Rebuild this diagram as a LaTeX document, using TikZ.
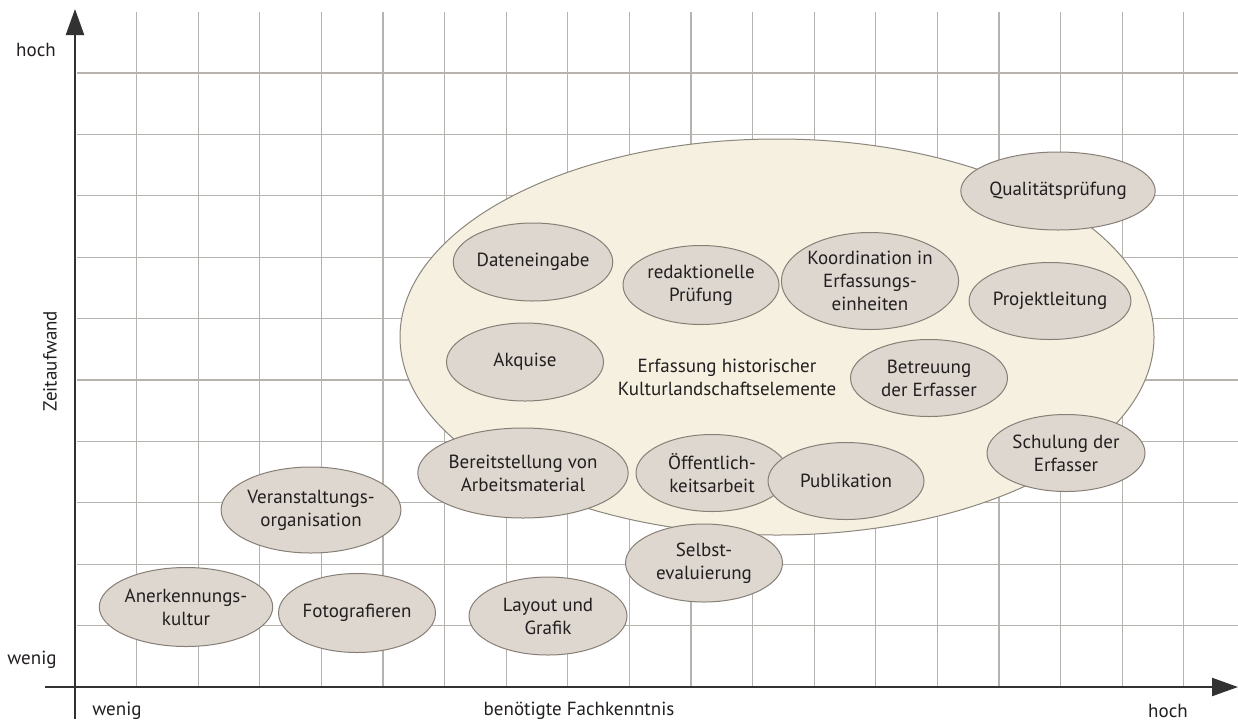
\documentclass[tikz,border=0pt]{standalone}
\usepackage{fontspec}
\setmainfont{PT Sans}
\usetikzlibrary{shapes.geometric,arrows.meta}
\definecolor{gridcol}{RGB}{182,178,174}
\definecolor{fieldfill}{RGB}{245,240,224}
\definecolor{fieldline}{RGB}{140,134,124}
\definecolor{taskfill}{RGB}{221,215,207}
\definecolor{taskline}{RGB}{135,127,118}
\definecolor{inkcol}{RGB}{35,31,32}
\definecolor{axiscol}{RGB}{50,50,50}
\tikzset{
  gridline/.style={draw=gridcol, line width=1.3pt},
  axisline/.style={draw=axiscol, line width=2.2pt, -{Triangle[length=26pt,width=18pt]}},
  field/.style={ellipse, draw=fieldline, fill=fieldfill, line width=1pt, inner sep=0pt},
  task/.style={ellipse, draw=taskline, fill=taskfill, line width=1pt, inner sep=0pt,
    align=center, text=inkcol, font=\fontsize{19}{23}\selectfont},
  lbl/.style={text=inkcol, font=\fontsize{19}{23}\selectfont, inner sep=0pt, align=center},
}
\begin{document}
\begin{tikzpicture}[x=1pt, y=-1pt]
\useasboundingbox[fill=white] (0,0) rectangle (1238,721);

% grid
\foreach \k in {1,...,18} {
  \draw[gridline] ({75+61.6*\k},12) -- ({75+61.6*\k},687);
}
\foreach \k in {1,...,10} {
  \draw[gridline] (77,{687-61.4*\k}) -- (1238,{687-61.4*\k});
}

% axes
\coordinate (ystart) at (75,719);
\coordinate (yend) at (75,9);
\coordinate (xstart) at (45,687);
\coordinate (xend) at (1238,687);
\draw[axisline] (ystart) -- (yend);
\draw[axisline] (xstart) -- (xend);

\node[lbl] (yhigh) at (36,50) {hoch};
\node[lbl] (ylow) at (32,660) {wenig};
\node[lbl, rotate=90] (ytitle) at (50,361) {Zeitaufwand};
\node[lbl] (xlow) at (117,711) {wenig};
\node[lbl] (xtitle) at (579,711) {benötigte Fachkenntnis};
\node[lbl] (xhigh) at (1168,711) {hoch};

% main field
\node[field, minimum width=754pt, minimum height=396pt] (field) at (777,337) {};
\node[lbl] (fieldlabel) at (727,377) {Erfassung historischer\\Kulturlandschaftselemente};

% tasks
\node[task, minimum width=156pt, minimum height=78pt] (quali) at (1058,191) {Qualitätsprüfung};
\node[task, minimum width=157pt, minimum height=78pt] (daten) at (533,262) {Dateneingabe};
\node[task, minimum width=156pt, minimum height=79pt] (redak) at (701,285) {redaktionelle\\Prüfung};
\node[task, minimum width=167pt, minimum height=97pt] (koord) at (870,281) {Koordination in\\Erfassungs-\\einheiten};
\node[task, minimum width=156pt, minimum height=77pt] (projekt) at (1050,301) {Projektleitung};
\node[task, minimum width=157pt, minimum height=78pt] (akquise) at (525,362) {Akquise};
\node[task, minimum width=157pt, minimum height=77pt] (betreuung) at (929,378) {Betreuung\\der Erfasser};
\node[task, minimum width=158pt, minimum height=77pt] (schulung) at (1066,453) {Schulung der\\Erfasser};
\node[task, minimum width=170pt, minimum height=90pt] (bereit) at (523,473) {Bereitstellung von\\Arbeitsmaterial};
\node[task, minimum width=152pt, minimum height=77pt] (oeff) at (712,473) {Öffentlich-\\keitsarbeit};
\node[task, minimum width=156pt, minimum height=77pt] (publ) at (846,481) {Publikation};
\node[task, minimum width=157pt, minimum height=78pt] (selbst) at (704,563) {Selbst-\\evaluierung};
\node[task, minimum width=164pt, minimum height=86pt] (veranst) at (311,510) {Veranstaltungs-\\organisation};
\node[task, minimum width=158pt, minimum height=79pt] (anerk) at (186,607) {Anerkennungs-\\kultur};
\node[task, minimum width=157pt, minimum height=79pt] (foto) at (357,613) {Fotografieren};
\node[task, minimum width=158pt, minimum height=78pt] (layout) at (548,616) {Layout und\\Grafik};
\end{tikzpicture}
\end{document}
